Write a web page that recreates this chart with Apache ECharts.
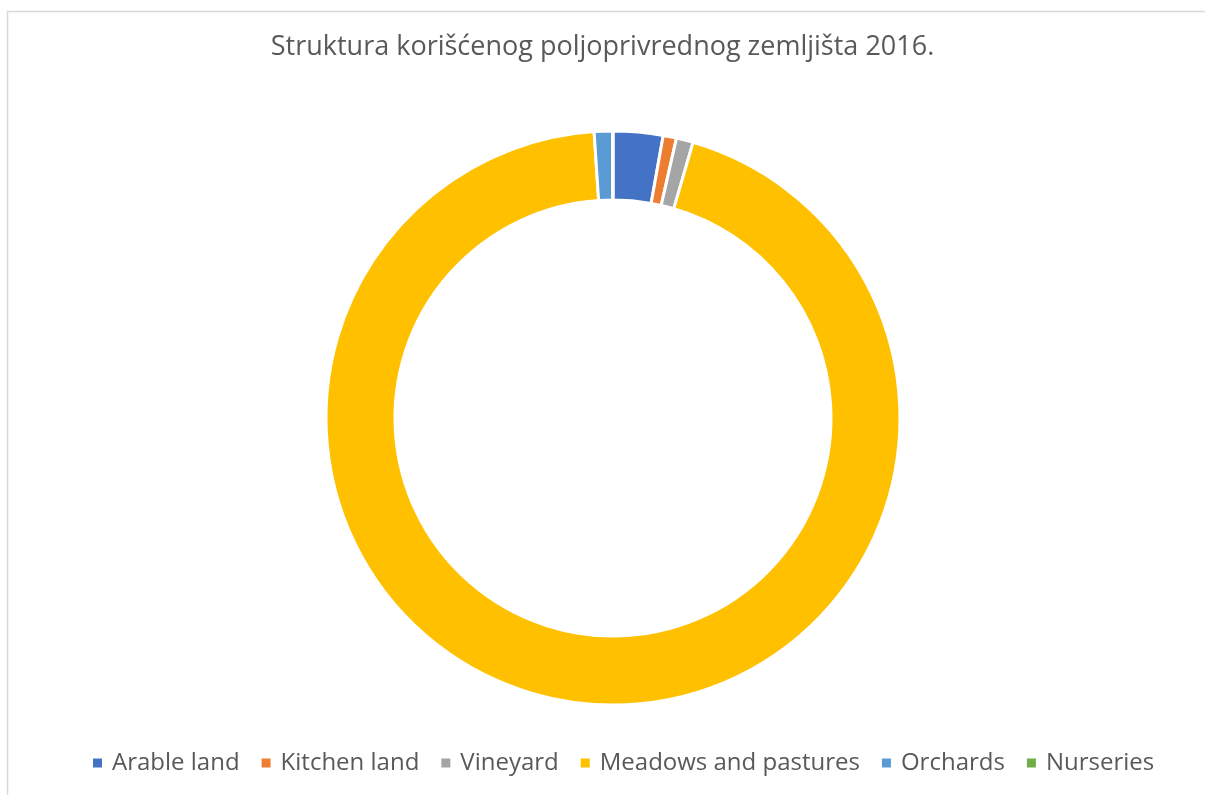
<!DOCTYPE html>
<html>
<head>
<meta charset="utf-8">
<script src="https://cdn.jsdelivr.net/npm/echarts@6/dist/echarts.min.js"></script>
<style>
  html, body {margin: 0; padding: 0; background: #fff;}
  #chart {width: 1205px; height: 795px;}
</style>
</head>
<body>
<div id="chart"></div>
<script>
const title = 'Struktura korišćenog poljoprivrednog zemljišta 2016.';
const categories = ['Arable land', 'Kitchen land', 'Vineyard', 'Meadows and pastures', 'Orchards', 'Nurseries'];
// share of used agricultural land, %
const shares = [2.8, 0.75, 0.95, 94.45, 1.03, 0.02];
const colors = ['#4472C4', '#ED7D31', '#A5A5A5', '#FFC000', '#5B9BD5', '#70AD47'];

const font = 'Open Sans';
const chart = echarts.init(document.getElementById('chart'));

chart.setOption({
  animation: false,
  color: colors,
  title: {
    text: title,
    left: 'center',
    top: 29,
    textStyle: {fontFamily: font, fontSize: 27, fontWeight: 'normal', color: '#595959'}
  },
  legend: {
    bottom: 15,
    left: 86,
    icon: 'rect',
    itemWidth: 11,
    itemHeight: 11,
    itemGap: 20,
    textStyle: {fontFamily: font, fontSize: 24, color: '#595959', padding: [0, 0, 0, 4]},
    data: categories
  },
  graphic: [{
    type: 'polyline',
    shape: {points: [[7.5, 800], [7.5, 11.5], [1210, 11.5]]},
    style: {stroke: '#d9d9d9', lineWidth: 1.5, fill: null},
    silent: true
  }],
  series: [{
    type: 'pie',
    center: [613, 418],
    radius: [218, 287],
    startAngle: 90,
    clockwise: true,
    avoidLabelOverlap: false,
    label: {show: false},
    labelLine: {show: false},
    itemStyle: {borderColor: '#fff', borderWidth: 3},
    emphasis: {disabled: true},
    data: categories.map((name, i) => ({name, value: shares[i]}))
  }]
});
</script>
</body>
</html>
